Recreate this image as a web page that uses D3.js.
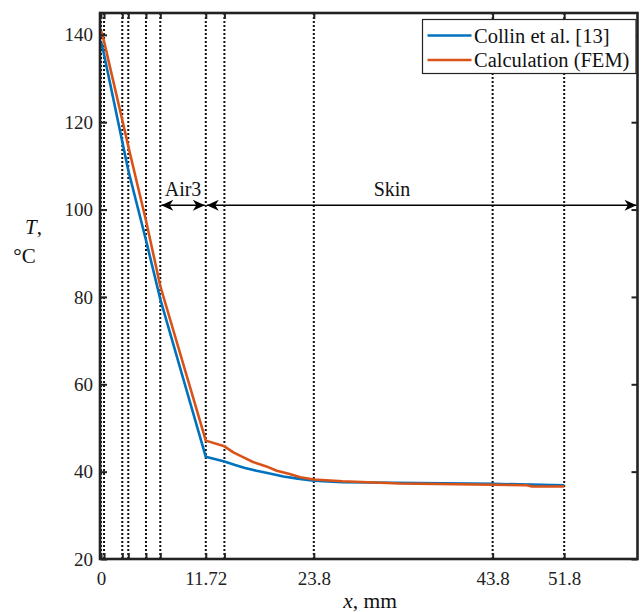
<!DOCTYPE html>
<html>
<head>
<meta charset="utf-8">
<script src="https://cdn.jsdelivr.net/npm/d3@7"></script>
<style>
  html, body { margin: 0; padding: 0; background: #fff; }
  svg { display: block; }
  svg text { font-family: "Liberation Serif", "Times New Roman", serif; }
</style>
</head>
<body>
<svg id="chart" width="643" height="612"></svg>
<script>
// Layer boundaries across the clothing/skin stack (mm)
const boundaries = [0, 0.34, 2.38, 3.05, 5.03, 6.63, 11.72, 13.8, 23.8, 43.8, 51.8];
const labelledTicks = [0, 11.72, 23.8, 43.8, 51.8];
const yTicks = [20, 40, 60, 80, 100, 120, 140];

// Temperature profile reported by Collin et al. [13]
const collinX = [0, 0.34, 2.38, 3.05, 5.03, 6.63, 11.72, 13.8, 15, 16, 17.4, 19, 20.4, 22, 23.8, 27, 30, 43.8, 51.8];
const collinT = [138.5, 135.5, 115.5, 109, 93, 79.5, 43.4, 42.3, 41.5, 40.9, 40.2, 39.5, 38.9, 38.4, 37.9, 37.6, 37.5, 37.2, 36.9];

// FEM calculation
const femX = [0, 0.34, 2.38, 3.05, 5.03, 6.63, 11.72, 13.8, 14.8, 16, 17, 18.5, 19.65, 21, 22.3, 23.8, 27, 33.4, 43.8, 47.6, 48.2, 51.8];
const femT = [141, 138.5, 120.5, 114.5, 97.5, 82.5, 47.1, 45.8, 44.4, 43.2, 42.2, 41.2, 40.2, 39.5, 38.7, 38.2, 37.8, 37.3, 37.0, 36.9, 36.6, 36.6];

const seriesNames = ["Collin et al. [13]", "Calculation (FEM)"];
const seriesColors = ["#0072BD", "#D95319"];

// Region annotations: [label, from, to]
const regions = [["Air3", 6.63, 11.72], ["Skin", 11.72, 60]];
const arrowLevel = 101;

const svg = d3.select("#chart");
const plotLeft = 101, plotRight = 637.5, plotTop = 13, plotBottom = 559;
const x = d3.scaleLinear().domain([0, 60]).range([plotLeft, plotRight]);
const y = d3.scaleLinear().domain([20, 145]).range([plotBottom, plotTop]);
const serif = "'Liberation Serif', 'Times New Roman', serif";

const g = svg.append("g");

// dotted boundary lines
g.selectAll("line.bd").data(boundaries).join("line")
  .attr("class", "bd")
  .attr("x1", d => x(d)).attr("x2", d => x(d))
  .attr("y1", plotTop).attr("y2", plotBottom)
  .attr("stroke", "#111").attr("stroke-width", 2)
  .attr("stroke-dasharray", "2,2");

// curves
const line = d3.line().x(d => x(d[0])).y(d => y(d[1]));
const series = [d3.zip(collinX, collinT), d3.zip(femX, femT)];
series.forEach((s, i) => {
  g.append("path").datum(s)
    .attr("d", line)
    .attr("fill", "none")
    .attr("stroke", seriesColors[i])
    .attr("stroke-width", 2.6)
    .attr("stroke-linejoin", "round");
});

// axes (ticks inward, mirrored on the opposite sides)
const fmt = d => labelledTicks.includes(d) ? String(d) : "";
const xb = d3.axisBottom(x).tickValues(boundaries).tickSize(-6).tickPadding(13).tickFormat(fmt);
const xt = d3.axisTop(x).tickValues(boundaries).tickSize(-6).tickFormat("");
const yl = d3.axisLeft(y).tickValues(yTicks).tickSize(-6).tickPadding(8);
const yr = d3.axisRight(y).tickValues(yTicks).tickSize(-6).tickFormat("");

function styleAxis(sel) {
  sel.attr("font-family", serif).attr("font-size", 19);
  sel.select(".domain").remove();
  sel.selectAll(".tick line").attr("stroke", "#222").attr("stroke-width", 2);
  sel.selectAll(".tick text").attr("fill", "#222");
}
svg.append("g").attr("transform", `translate(0,${plotBottom})`).call(xb).call(styleAxis);
svg.append("g").attr("transform", `translate(0,${plotTop})`).call(xt).call(styleAxis);
svg.append("g").attr("transform", `translate(${plotLeft},0)`).call(yl).call(styleAxis);
svg.append("g").attr("transform", `translate(${plotRight},0)`).call(yr).call(styleAxis);

// frame
svg.append("rect")
  .attr("x", plotLeft - 1).attr("y", plotTop).attr("width", plotRight - plotLeft + 1).attr("height", plotBottom - plotTop)
  .attr("fill", "none").attr("stroke", "#222").attr("stroke-width", 2.6);

// region arrows
const headPath = "M0,0 L-12,-5.5 L-8.5,0 L-12,5.5 Z";
regions.forEach(([label, a, b]) => {
  const ya = y(arrowLevel);
  const xa = x(a), xb2 = x(b);
  svg.append("line").attr("x1", xa + 1).attr("x2", xb2 - 1).attr("y1", ya).attr("y2", ya)
    .attr("stroke", "#000").attr("stroke-width", 1.4);
  svg.append("path").attr("d", headPath)
    .attr("transform", `translate(${xa + 1},${ya}) rotate(180)`).attr("fill", "#000");
  svg.append("path").attr("d", headPath)
    .attr("transform", `translate(${xb2 - 1},${ya})`).attr("fill", "#000");
  svg.append("text").attr("x", label === "Skin" ? 392 : (xa + xb2) / 2).attr("y", ya - 9)
    .attr("text-anchor", "middle").attr("font-family", serif).attr("font-size", 20).attr("fill", "#111")
    .text(label);
});

// legend
const lg = svg.append("g").attr("transform", "translate(422.5,19.5)");
lg.append("rect").attr("width", 213.5).attr("height", 54)
  .attr("fill", "#fff").attr("stroke", "#222").attr("stroke-width", 1.2);
seriesNames.forEach((name, i) => {
  const ly = 16 + i * 24.5;
  lg.append("line").attr("x1", 5).attr("x2", 49).attr("y1", ly).attr("y2", ly)
    .attr("stroke", seriesColors[i]).attr("stroke-width", 2.6);
  lg.append("text").attr("x", 51.5).attr("y", ly + 7)
    .attr("font-family", serif).attr("font-size", 20.5).attr("fill", "#111").text(name);
});

// axis titles
svg.append("text").attr("x", 370).attr("y", 608).attr("text-anchor", "middle")
  .attr("font-family", serif).attr("font-size", 21.5).attr("fill", "#111")
  .html('<tspan font-style="italic">x</tspan>, mm');
svg.append("text").attr("x", 33.5).attr("y", 234).attr("text-anchor", "middle")
  .attr("font-family", serif).attr("font-size", 21).attr("fill", "#111")
  .html('<tspan font-style="italic">T</tspan>,');
svg.append("text").attr("x", 24.5).attr("y", 263).attr("text-anchor", "middle")
  .attr("font-family", serif).attr("font-size", 21).attr("fill", "#111").text("°C");
</script>
</body>
</html>
